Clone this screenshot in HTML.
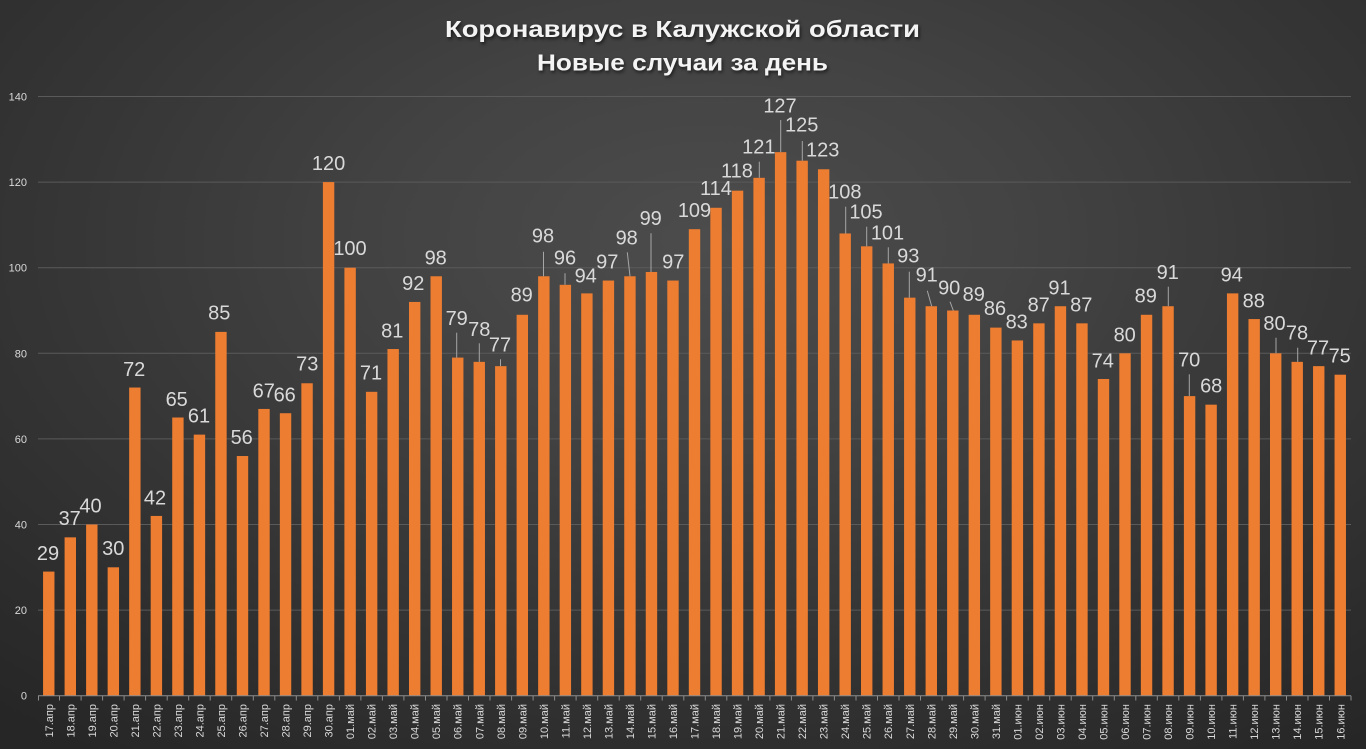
<!DOCTYPE html>
<html><head><meta charset="utf-8"><style>
html,body{margin:0;padding:0;}
body{width:1366px;height:749px;overflow:hidden;background:radial-gradient(ellipse 78% 85% at 52% 32%,#4c4c4c 0%,#434343 30%,#363636 60%,#262626 100%);}
svg{display:block;}
.t{font-family:"Liberation Sans","Noto Sans CJK SC",sans-serif;font-weight:bold;font-size:23px;fill:#f4f4f4;text-shadow:1px 2px 3px rgba(0,0,0,0.6);}
.v{font-family:"Liberation Sans",sans-serif;font-size:20px;fill:#d9d9d9;text-anchor:middle;}
.y{font-family:"Liberation Sans",sans-serif;font-size:11px;fill:#d9d9d9;text-anchor:end;}
.x{font-family:"Liberation Sans","Noto Sans CJK SC",sans-serif;font-size:11px;fill:#d9d9d9;text-anchor:end;}
</style></head><body>
<svg width="1366" height="749" viewBox="0 0 1366 749" xmlns="http://www.w3.org/2000/svg">
<text class="t" x="445" y="37" textLength="475" lengthAdjust="spacingAndGlyphs">Коронавирус в Калужской области</text>
<text class="t" x="537" y="70.5" textLength="291" lengthAdjust="spacingAndGlyphs">Новые случаи за день</text>
<g stroke="#5a5a5a" stroke-width="1">
<line x1="38" y1="610.1" x2="1351" y2="610.1"/>
<line x1="38" y1="524.5" x2="1351" y2="524.5"/>
<line x1="38" y1="438.9" x2="1351" y2="438.9"/>
<line x1="38" y1="353.3" x2="1351" y2="353.3"/>
<line x1="38" y1="267.7" x2="1351" y2="267.7"/>
<line x1="38" y1="182.1" x2="1351" y2="182.1"/>
<line x1="38" y1="96.5" x2="1351" y2="96.5"/>
</g>
<g class="y">
<text x="27" y="699.7">0</text>
<text x="27" y="614.1">20</text>
<text x="27" y="528.5">40</text>
<text x="27" y="442.9">60</text>
<text x="27" y="357.3">80</text>
<text x="27" y="271.7">100</text>
<text x="27" y="186.1">120</text>
<text x="27" y="100.5">140</text>
</g>
<g fill="#ed7d31">
<rect x="43.06" y="571.58" width="11.4" height="124.12"/>
<rect x="64.59" y="537.34" width="11.4" height="158.36"/>
<rect x="86.11" y="524.5" width="11.4" height="171.2"/>
<rect x="107.64" y="567.3" width="11.4" height="128.4"/>
<rect x="129.16" y="387.54" width="11.4" height="308.16"/>
<rect x="150.69" y="515.94" width="11.4" height="179.76"/>
<rect x="172.21" y="417.5" width="11.4" height="278.2"/>
<rect x="193.74" y="434.62" width="11.4" height="261.08"/>
<rect x="215.26" y="331.9" width="11.4" height="363.8"/>
<rect x="236.79" y="456.02" width="11.4" height="239.68"/>
<rect x="258.31" y="408.94" width="11.4" height="286.76"/>
<rect x="279.84" y="413.22" width="11.4" height="282.48"/>
<rect x="301.36" y="383.26" width="11.4" height="312.44"/>
<rect x="322.89" y="182.1" width="11.4" height="513.6"/>
<rect x="344.41" y="267.7" width="11.4" height="428"/>
<rect x="365.94" y="391.82" width="11.4" height="303.88"/>
<rect x="387.46" y="349.02" width="11.4" height="346.68"/>
<rect x="408.99" y="301.94" width="11.4" height="393.76"/>
<rect x="430.51" y="276.26" width="11.4" height="419.44"/>
<rect x="452.04" y="357.58" width="11.4" height="338.12"/>
<rect x="473.56" y="361.86" width="11.4" height="333.84"/>
<rect x="495.09" y="366.14" width="11.4" height="329.56"/>
<rect x="516.61" y="314.78" width="11.4" height="380.92"/>
<rect x="538.14" y="276.26" width="11.4" height="419.44"/>
<rect x="559.66" y="284.82" width="11.4" height="410.88"/>
<rect x="581.19" y="293.38" width="11.4" height="402.32"/>
<rect x="602.71" y="280.54" width="11.4" height="415.16"/>
<rect x="624.24" y="276.26" width="11.4" height="419.44"/>
<rect x="645.76" y="271.98" width="11.4" height="423.72"/>
<rect x="667.29" y="280.54" width="11.4" height="415.16"/>
<rect x="688.81" y="229.18" width="11.4" height="466.52"/>
<rect x="710.34" y="207.78" width="11.4" height="487.92"/>
<rect x="731.86" y="190.66" width="11.4" height="505.04"/>
<rect x="753.39" y="177.82" width="11.4" height="517.88"/>
<rect x="774.91" y="152.14" width="11.4" height="543.56"/>
<rect x="796.44" y="160.7" width="11.4" height="535"/>
<rect x="817.96" y="169.26" width="11.4" height="526.44"/>
<rect x="839.49" y="233.46" width="11.4" height="462.24"/>
<rect x="861.01" y="246.3" width="11.4" height="449.4"/>
<rect x="882.54" y="263.42" width="11.4" height="432.28"/>
<rect x="904.06" y="297.66" width="11.4" height="398.04"/>
<rect x="925.59" y="306.22" width="11.4" height="389.48"/>
<rect x="947.11" y="310.5" width="11.4" height="385.2"/>
<rect x="968.64" y="314.78" width="11.4" height="380.92"/>
<rect x="990.16" y="327.62" width="11.4" height="368.08"/>
<rect x="1011.69" y="340.46" width="11.4" height="355.24"/>
<rect x="1033.21" y="323.34" width="11.4" height="372.36"/>
<rect x="1054.74" y="306.22" width="11.4" height="389.48"/>
<rect x="1076.26" y="323.34" width="11.4" height="372.36"/>
<rect x="1097.79" y="378.98" width="11.4" height="316.72"/>
<rect x="1119.31" y="353.3" width="11.4" height="342.4"/>
<rect x="1140.84" y="314.78" width="11.4" height="380.92"/>
<rect x="1162.36" y="306.22" width="11.4" height="389.48"/>
<rect x="1183.89" y="396.1" width="11.4" height="299.6"/>
<rect x="1205.41" y="404.66" width="11.4" height="291.04"/>
<rect x="1226.94" y="293.38" width="11.4" height="402.32"/>
<rect x="1248.46" y="319.06" width="11.4" height="376.64"/>
<rect x="1269.99" y="353.3" width="11.4" height="342.4"/>
<rect x="1291.51" y="361.86" width="11.4" height="333.84"/>
<rect x="1313.04" y="366.14" width="11.4" height="329.56"/>
<rect x="1334.56" y="374.7" width="11.4" height="321"/>
</g>
<g stroke="#a6a6a6" stroke-width="1">
<line x1="456.7" y1="332.7" x2="456.7" y2="357.6"/>
<line x1="479.3" y1="343.3" x2="479.3" y2="361.9"/>
<line x1="500.5" y1="359.3" x2="500.5" y2="366.1"/>
<line x1="543.5" y1="251.7" x2="543.5" y2="276.3"/>
<line x1="565" y1="273.3" x2="565" y2="284.8"/>
<line x1="627.3" y1="252.3" x2="630" y2="276.3"/>
<line x1="651" y1="233.3" x2="651" y2="272"/>
<line x1="759.3" y1="161.7" x2="759.3" y2="177.8"/>
<line x1="780.7" y1="120" x2="780.7" y2="152.1"/>
<line x1="802.3" y1="141" x2="802.3" y2="160.7"/>
<line x1="845.7" y1="206.7" x2="845.7" y2="233.5"/>
<line x1="866.7" y1="226.7" x2="866.7" y2="246.3"/>
<line x1="888.3" y1="247.3" x2="888.3" y2="263.4"/>
<line x1="909.3" y1="271.7" x2="909.3" y2="297.7"/>
<line x1="927.3" y1="290.7" x2="931.7" y2="306.2"/>
<line x1="950" y1="301.7" x2="953.3" y2="310.5"/>
<line x1="1168.3" y1="286.7" x2="1168.3" y2="306.2"/>
<line x1="1189.3" y1="374.3" x2="1189.3" y2="396.1"/>
<line x1="1276" y1="337.7" x2="1276" y2="353.3"/>
<line x1="1297.7" y1="347.7" x2="1297.7" y2="361.9"/>
</g>
<g class="v">
<text x="48" y="560">29</text>
<text x="69.7" y="525">37</text>
<text x="90.5" y="512.7">40</text>
<text x="113.3" y="555">30</text>
<text x="134.2" y="376">72</text>
<text x="155" y="504.3">42</text>
<text x="176.7" y="406">65</text>
<text x="199" y="422.7">61</text>
<text x="219.3" y="319.3">85</text>
<text x="241.7" y="444">56</text>
<text x="263.8" y="397.3">67</text>
<text x="284.7" y="401.7">66</text>
<text x="307.3" y="370.7">73</text>
<text x="328.6" y="170">120</text>
<text x="350" y="255">100</text>
<text x="371" y="379.3">71</text>
<text x="392.3" y="337.3">81</text>
<text x="413.3" y="290">92</text>
<text x="435.7" y="264.3">98</text>
<text x="456.7" y="325">79</text>
<text x="479.3" y="336">78</text>
<text x="500" y="351.7">77</text>
<text x="521.7" y="301.7">89</text>
<text x="543" y="242.7">98</text>
<text x="565" y="264.3">96</text>
<text x="585.7" y="282.3">94</text>
<text x="607.3" y="268.3">97</text>
<text x="626.7" y="244.3">98</text>
<text x="650.7" y="225">99</text>
<text x="673.3" y="268.3">97</text>
<text x="694.5" y="217">109</text>
<text x="716" y="195">114</text>
<text x="737" y="177.7">118</text>
<text x="758.8" y="153.3">121</text>
<text x="780" y="112.3">127</text>
<text x="801.7" y="131.7">125</text>
<text x="822.7" y="156.7">123</text>
<text x="844.8" y="198.3">108</text>
<text x="866" y="218.3">105</text>
<text x="887.5" y="239.3">101</text>
<text x="908.3" y="262.7">93</text>
<text x="926.7" y="281.7">91</text>
<text x="949.2" y="294.3">90</text>
<text x="973.8" y="301">89</text>
<text x="995" y="315">86</text>
<text x="1016.7" y="328.3">83</text>
<text x="1038.7" y="311.7">87</text>
<text x="1059.5" y="294.3">91</text>
<text x="1081.3" y="311.7">87</text>
<text x="1102.8" y="367.3">74</text>
<text x="1124.7" y="341.7">80</text>
<text x="1145.8" y="302.7">89</text>
<text x="1167.8" y="279">91</text>
<text x="1189.2" y="366.7">70</text>
<text x="1211.2" y="392.3">68</text>
<text x="1231.7" y="281.7">94</text>
<text x="1253.8" y="307.7">88</text>
<text x="1274.5" y="330">80</text>
<text x="1297" y="339.3">78</text>
<text x="1318" y="354.3">77</text>
<text x="1339.7" y="362.3">75</text>
</g>
<line x1="38" y1="695.7" x2="1351" y2="695.7" stroke="#8c8c8c" stroke-width="1"/>
<g stroke="#8c8c8c" stroke-width="1">
<line x1="38.5" y1="695.7" x2="38.5" y2="700.5"/><line x1="59.5" y1="695.7" x2="59.5" y2="700.5"/><line x1="81.1" y1="695.7" x2="81.1" y2="700.5"/><line x1="102.6" y1="695.7" x2="102.6" y2="700.5"/><line x1="124.1" y1="695.7" x2="124.1" y2="700.5"/><line x1="145.6" y1="695.7" x2="145.6" y2="700.5"/><line x1="167.2" y1="695.7" x2="167.2" y2="700.5"/><line x1="188.7" y1="695.7" x2="188.7" y2="700.5"/><line x1="210.2" y1="695.7" x2="210.2" y2="700.5"/><line x1="231.7" y1="695.7" x2="231.7" y2="700.5"/><line x1="253.3" y1="695.7" x2="253.3" y2="700.5"/><line x1="274.8" y1="695.7" x2="274.8" y2="700.5"/><line x1="296.3" y1="695.7" x2="296.3" y2="700.5"/><line x1="317.8" y1="695.7" x2="317.8" y2="700.5"/><line x1="339.4" y1="695.7" x2="339.4" y2="700.5"/><line x1="360.9" y1="695.7" x2="360.9" y2="700.5"/><line x1="382.4" y1="695.7" x2="382.4" y2="700.5"/><line x1="403.9" y1="695.7" x2="403.9" y2="700.5"/><line x1="425.5" y1="695.7" x2="425.5" y2="700.5"/><line x1="447" y1="695.7" x2="447" y2="700.5"/><line x1="468.5" y1="695.7" x2="468.5" y2="700.5"/><line x1="490" y1="695.7" x2="490" y2="700.5"/><line x1="511.6" y1="695.7" x2="511.6" y2="700.5"/><line x1="533.1" y1="695.7" x2="533.1" y2="700.5"/><line x1="554.6" y1="695.7" x2="554.6" y2="700.5"/><line x1="576.1" y1="695.7" x2="576.1" y2="700.5"/><line x1="597.7" y1="695.7" x2="597.7" y2="700.5"/><line x1="619.2" y1="695.7" x2="619.2" y2="700.5"/><line x1="640.7" y1="695.7" x2="640.7" y2="700.5"/><line x1="662.2" y1="695.7" x2="662.2" y2="700.5"/><line x1="683.8" y1="695.7" x2="683.8" y2="700.5"/><line x1="705.3" y1="695.7" x2="705.3" y2="700.5"/><line x1="726.8" y1="695.7" x2="726.8" y2="700.5"/><line x1="748.3" y1="695.7" x2="748.3" y2="700.5"/><line x1="769.9" y1="695.7" x2="769.9" y2="700.5"/><line x1="791.4" y1="695.7" x2="791.4" y2="700.5"/><line x1="812.9" y1="695.7" x2="812.9" y2="700.5"/><line x1="834.4" y1="695.7" x2="834.4" y2="700.5"/><line x1="856" y1="695.7" x2="856" y2="700.5"/><line x1="877.5" y1="695.7" x2="877.5" y2="700.5"/><line x1="899" y1="695.7" x2="899" y2="700.5"/><line x1="920.5" y1="695.7" x2="920.5" y2="700.5"/><line x1="942.1" y1="695.7" x2="942.1" y2="700.5"/><line x1="963.6" y1="695.7" x2="963.6" y2="700.5"/><line x1="985.1" y1="695.7" x2="985.1" y2="700.5"/><line x1="1006.6" y1="695.7" x2="1006.6" y2="700.5"/><line x1="1028.2" y1="695.7" x2="1028.2" y2="700.5"/><line x1="1049.7" y1="695.7" x2="1049.7" y2="700.5"/><line x1="1071.2" y1="695.7" x2="1071.2" y2="700.5"/><line x1="1092.7" y1="695.7" x2="1092.7" y2="700.5"/><line x1="1114.3" y1="695.7" x2="1114.3" y2="700.5"/><line x1="1135.8" y1="695.7" x2="1135.8" y2="700.5"/><line x1="1157.3" y1="695.7" x2="1157.3" y2="700.5"/><line x1="1178.8" y1="695.7" x2="1178.8" y2="700.5"/><line x1="1200.4" y1="695.7" x2="1200.4" y2="700.5"/><line x1="1221.9" y1="695.7" x2="1221.9" y2="700.5"/><line x1="1243.4" y1="695.7" x2="1243.4" y2="700.5"/><line x1="1264.9" y1="695.7" x2="1264.9" y2="700.5"/><line x1="1286.5" y1="695.7" x2="1286.5" y2="700.5"/><line x1="1308" y1="695.7" x2="1308" y2="700.5"/><line x1="1329.5" y1="695.7" x2="1329.5" y2="700.5"/><line x1="1351" y1="695.7" x2="1351" y2="700.5"/>
</g>
<g class="x">
<text transform="translate(52.8,704) rotate(-90)">17.апр</text>
<text transform="translate(74.3,704) rotate(-90)">18.апр</text>
<text transform="translate(95.8,704) rotate(-90)">19.апр</text>
<text transform="translate(117.3,704) rotate(-90)">20.апр</text>
<text transform="translate(138.9,704) rotate(-90)">21.апр</text>
<text transform="translate(160.4,704) rotate(-90)">22.апр</text>
<text transform="translate(181.9,704) rotate(-90)">23.апр</text>
<text transform="translate(203.4,704) rotate(-90)">24.апр</text>
<text transform="translate(225,704) rotate(-90)">25.апр</text>
<text transform="translate(246.5,704) rotate(-90)">26.апр</text>
<text transform="translate(268,704) rotate(-90)">27.апр</text>
<text transform="translate(289.5,704) rotate(-90)">28.апр</text>
<text transform="translate(311.1,704) rotate(-90)">29.апр</text>
<text transform="translate(332.6,704) rotate(-90)">30.апр</text>
<text transform="translate(354.1,704) rotate(-90)">01.май</text>
<text transform="translate(375.6,704) rotate(-90)">02.май</text>
<text transform="translate(397.2,704) rotate(-90)">03.май</text>
<text transform="translate(418.7,704) rotate(-90)">04.май</text>
<text transform="translate(440.2,704) rotate(-90)">05.май</text>
<text transform="translate(461.7,704) rotate(-90)">06.май</text>
<text transform="translate(483.3,704) rotate(-90)">07.май</text>
<text transform="translate(504.8,704) rotate(-90)">08.май</text>
<text transform="translate(526.3,704) rotate(-90)">09.май</text>
<text transform="translate(547.8,704) rotate(-90)">10.май</text>
<text transform="translate(569.4,704) rotate(-90)">11.май</text>
<text transform="translate(590.9,704) rotate(-90)">12.май</text>
<text transform="translate(612.4,704) rotate(-90)">13.май</text>
<text transform="translate(633.9,704) rotate(-90)">14.май</text>
<text transform="translate(655.5,704) rotate(-90)">15.май</text>
<text transform="translate(677,704) rotate(-90)">16.май</text>
<text transform="translate(698.5,704) rotate(-90)">17.май</text>
<text transform="translate(720,704) rotate(-90)">18.май</text>
<text transform="translate(741.6,704) rotate(-90)">19.май</text>
<text transform="translate(763.1,704) rotate(-90)">20.май</text>
<text transform="translate(784.6,704) rotate(-90)">21.май</text>
<text transform="translate(806.1,704) rotate(-90)">22.май</text>
<text transform="translate(827.7,704) rotate(-90)">23.май</text>
<text transform="translate(849.2,704) rotate(-90)">24.май</text>
<text transform="translate(870.7,704) rotate(-90)">25.май</text>
<text transform="translate(892.2,704) rotate(-90)">26.май</text>
<text transform="translate(913.8,704) rotate(-90)">27.май</text>
<text transform="translate(935.3,704) rotate(-90)">28.май</text>
<text transform="translate(956.8,704) rotate(-90)">29.май</text>
<text transform="translate(978.3,704) rotate(-90)">30.май</text>
<text transform="translate(999.9,704) rotate(-90)">31.май</text>
<text transform="translate(1021.4,704) rotate(-90)">01.июн</text>
<text transform="translate(1042.9,704) rotate(-90)">02.июн</text>
<text transform="translate(1064.4,704) rotate(-90)">03.июн</text>
<text transform="translate(1086,704) rotate(-90)">04.июн</text>
<text transform="translate(1107.5,704) rotate(-90)">05.июн</text>
<text transform="translate(1129,704) rotate(-90)">06.июн</text>
<text transform="translate(1150.5,704) rotate(-90)">07.июн</text>
<text transform="translate(1172.1,704) rotate(-90)">08.июн</text>
<text transform="translate(1193.6,704) rotate(-90)">09.июн</text>
<text transform="translate(1215.1,704) rotate(-90)">10.июн</text>
<text transform="translate(1236.6,704) rotate(-90)">11.июн</text>
<text transform="translate(1258.2,704) rotate(-90)">12.июн</text>
<text transform="translate(1279.7,704) rotate(-90)">13.июн</text>
<text transform="translate(1301.2,704) rotate(-90)">14.июн</text>
<text transform="translate(1322.7,704) rotate(-90)">15.июн</text>
<text transform="translate(1344.3,704) rotate(-90)">16.июн</text>
</g>
</svg>
</body></html>
